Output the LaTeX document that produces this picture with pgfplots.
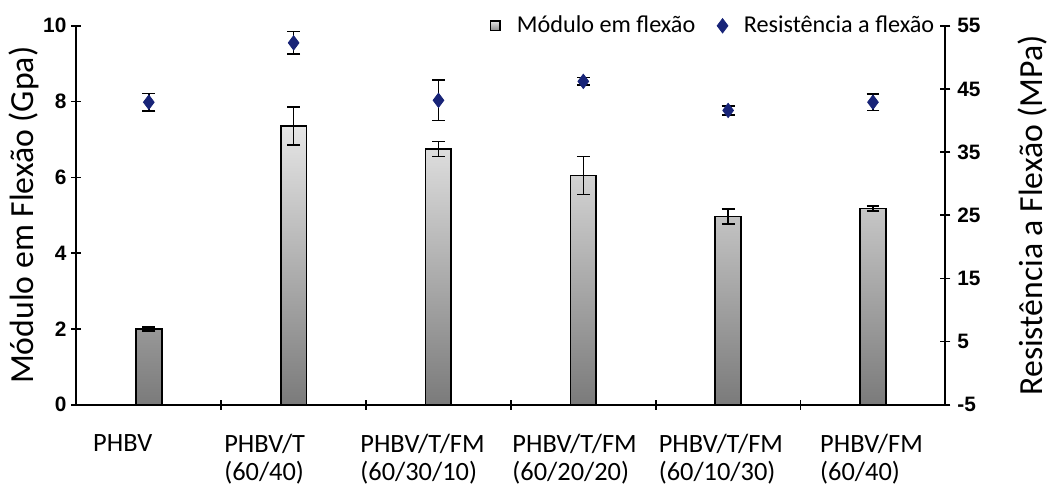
\documentclass[border=0pt]{standalone}
\usepackage{pgfplots}
\pgfplotsset{compat=1.18}
\usepackage{pgfplotstable}
\usepackage{fontspec}
\setmainfont{Carlito}
\newfontfamily\arialb{Liberation Sans}
\definecolor{navyd}{RGB}{24,36,120}

\pgfplotstableread{
x y e
0 2.00 0.05
1 7.35 0.50
2 6.75 0.20
3 6.05 0.50
4 4.97 0.20
5 5.18 0.06
}\modulo

\pgfplotstableread{
x y e
0 42.9 1.4
1 52.3 1.8
2 43.2 3.2
3 46.2 0.6
4 41.6 0.7
5 42.9 1.3
}\resist

\begin{document}
\begin{tikzpicture}
\pgfplotsset{
  common/.style={
    scale only axis, width=438pt, height=191pt,
    xmin=-0.5, xmax=5.5,
    axis line style={-, line width=1pt, black},
    tick align=center,
    major tick length=5pt,
    every tick/.style={black, line width=0.8pt},
    /pgf/number format/assume math mode=true,
    yticklabel style={font=\arialb\bfseries\fontsize{10.5}{12}\selectfont},
    clip=false,
  },
  ebars/.style={error bars/.cd, y dir=both, y explicit,
    error bar style={black, line width=0.8pt},
    error mark=|,
    error mark options={black, mark size=3.25pt, line width=0.8pt}},
}
\begin{axis}[common,
  ymin=0, ymax=10, ytick={0,2,...,10},
  axis y line*=left, axis x line*=bottom,
  xtick={-0.18,0.80,1.89,2.94,3.95,4.99},
  xticklabels={PHBV, {PHBV/T\\(60/40)}, {PHBV/T/FM\\(60/30/10)}, {PHBV/T/FM\\(60/20/20)}, {PHBV/T/FM\\(60/10/30)}, {PHBV/FM\\(60/40)}},
  xticklabel style={font=\fontsize{13.3}{14}\selectfont, align=left, anchor=north, yshift=-9pt},
  major x tick style={draw=none},
  extra x ticks={0.5,1.5,2.5,3.5,4.5},
  extra x tick labels={},
  extra x tick style={major x tick style={draw=black}, major tick length=5pt},
  yticklabel style={xshift=1pt},
  ylabel={Módulo em Flexão (Gpa)},
  ylabel style={at={(axis description cs:-0.0605,0.5)}, anchor=center, rotate=0, font=\fontsize{17}{20}\selectfont},
]
\addplot[ybar, bar width=13pt, draw=black, line width=0.9pt,
  top color=black!10, bottom color=black!52, ebars]
  table[x=x, y=y, y error=e] {\modulo};
\end{axis}
\begin{axis}[common,
  ymin=-5, ymax=55, ytick={-5,5,...,55},
  axis y line*=right, axis x line=none,
  ylabel={Resistência a Flexão (MPa)},
  ylabel style={at={(axis description cs:1.1005,0.5)}, anchor=center, rotate=0, font=\fontsize{17}{20}\selectfont},
  legend columns=2,
  legend style={draw=none, fill=none, at={(axis description cs:0.999,1.0)}, anchor=east,
    font=\fontsize{12.2}{13}\selectfont,
    /tikz/every odd column/.append style={column sep=6pt},
    /tikz/every even column/.append style={column sep=9pt}},
]
\addlegendimage{legend image code/.code={\draw[black, line width=0.8pt, top color=black!10, bottom color=black!45] (0.0cm,-0.08cm) rectangle (0.17cm,0.09cm);}}
\addlegendentry{Módulo em flexão}
\addplot[only marks, mark=diamond*, mark size=3.6pt, mark options={fill=navyd, draw=navyd, solid}, ebars]
  table[x=x, y=y, y error=e] {\resist};
\addlegendentry{Resistência a flexão}
\path (axis description cs:-0.0879,-0.199) rectangle (axis description cs:1.1153,1.0681);
\end{axis}
\end{tikzpicture}
\end{document}
